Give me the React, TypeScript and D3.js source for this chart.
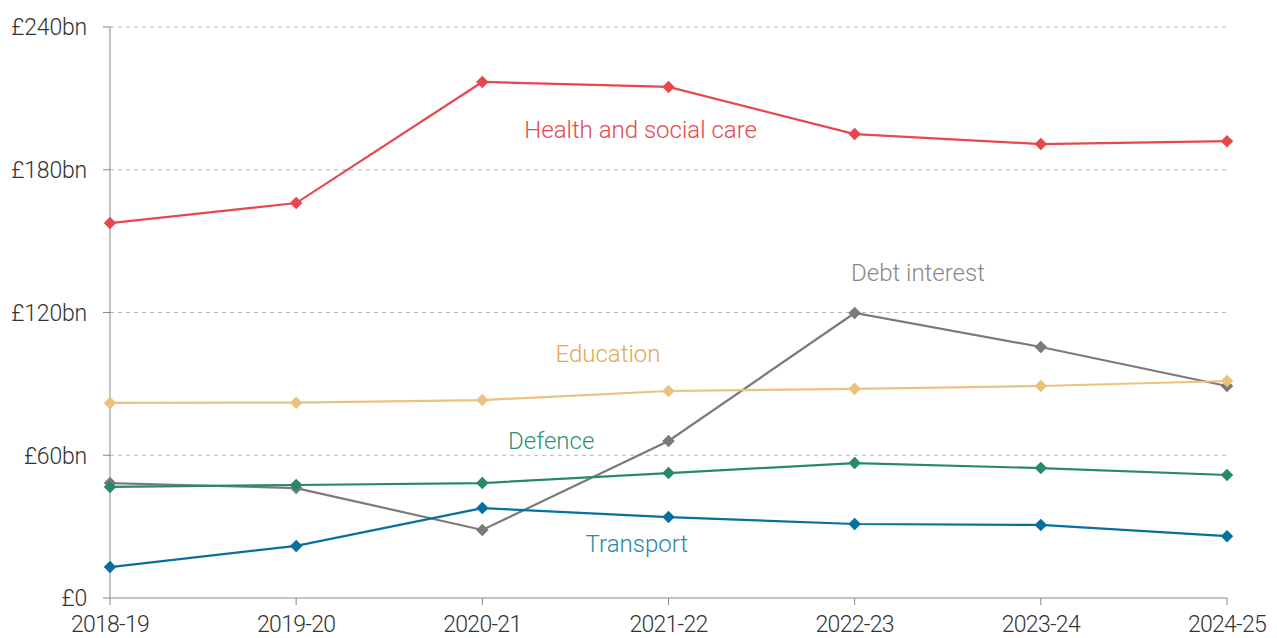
import React from "react";
import * as d3 from "d3";

const years = ["2018-19", "2019-20", "2020-21", "2021-22", "2022-23", "2023-24", "2024-25"];
const health = [157.6, 166, 216.9, 214.8, 195, 190.8, 192];
const education = [82, 82.1, 83.2, 87, 87.9, 89.1, 91.2];
const debtInterest = [48.3, 46.2, 28.6, 66, 119.8, 105.5, 89.1];
const defence = [46.7, 47.5, 48.3, 52.5, 56.7, 54.6, 51.7];
const transport = [13, 21.9, 37.8, 34, 31.1, 30.7, 26];
const yTicks = [0, 60, 120, 180, 240];
const yTickLabels = ["£0", "£60bn", "£120bn", "£180bn", "£240bn"];

const seriesList = [
  { name: "Health and social care", values: health, color: "#e8474c", labelColor: "#e8474c", lx: 2.85, ly: 138 },
  { name: "Debt interest", values: debtInterest, color: "#7a7a7a", labelColor: "#888888", lx: 4.34, ly: 281 },
  { name: "Education", values: education, color: "#ebc27d", labelColor: "#e3aa4f", lx: 2.675, ly: 362 },
  { name: "Defence", values: defence, color: "#278a67", labelColor: "#2d9470", lx: 2.37, ly: 449 },
  { name: "Transport", values: transport, color: "#08709c", labelColor: "#2a86ad", lx: 2.83, ly: 552 },
];

export default function App() {
  const W = 1277, H = 638;
  const left = 110, right = 1227, top = 27, bottom = 598;
  const x = d3.scalePoint<string>().domain(years).range([left, right]);
  const y = d3.scaleLinear().domain([0, 240]).range([bottom, top]);
  const xi = d3.scaleLinear().domain([0, years.length - 1]).range([left, right]);
  const line = d3.line<number>().x((_, i) => x(years[i])!).y((v) => y(v));
  const diamond = d3.symbol().type(d3.symbolDiamond2).size(100)();
  const font = "Roboto, 'Noto Sans', sans-serif";

  return (
    <svg width={W} height={H} style={{ position: "absolute", left: 0, top: 0 }} fontFamily={font}>
      {yTicks.map((t, i) => (
        <g key={t}>
          {t > 0 && (
            <line x1={left} x2={right} y1={y(t)} y2={y(t)} stroke="#b5b5b5" strokeWidth={1} strokeDasharray="4,4" />
          )}
          <line x1={left - 7} x2={left} y1={y(t)} y2={y(t)} stroke="#888" strokeWidth={1} />
          <text x={87} y={y(t)} dy="0.36em" textAnchor="end" fontSize={23} letterSpacing={-0.2} fill="#333" fontWeight={300}>
            {yTickLabels[i]}
          </text>
        </g>
      ))}
      <line x1={left} x2={left} y1={top} y2={bottom} stroke="#888" strokeWidth={1} />
      <line x1={left} x2={right} y1={bottom} y2={bottom} stroke="#888" strokeWidth={1} />
      {years.map((yr) => (
        <g key={yr}>
          <line x1={x(yr)} x2={x(yr)} y1={bottom} y2={bottom + 7} stroke="#888" strokeWidth={1} />
          <text x={x(yr)} y={632} textAnchor="middle" fontSize={23} letterSpacing={-0.7} fill="#333" fontWeight={300}>
            {yr}
          </text>
        </g>
      ))}
      {seriesList.map((s) => (
        <g key={s.name}>
          <path d={line(s.values)!} fill="none" stroke={s.color} strokeWidth={2.2} />
          {s.values.map((v, i) => (
            <path key={i} d={diamond!} transform={`translate(${x(years[i])},${y(v)})`} fill={s.color} />
          ))}
          <text x={xi(s.lx)} y={s.ly} textAnchor="middle" fontSize={24} fill={s.labelColor} fontWeight={300}>
            {s.name}
          </text>
        </g>
      ))}
    </svg>
  );
}
